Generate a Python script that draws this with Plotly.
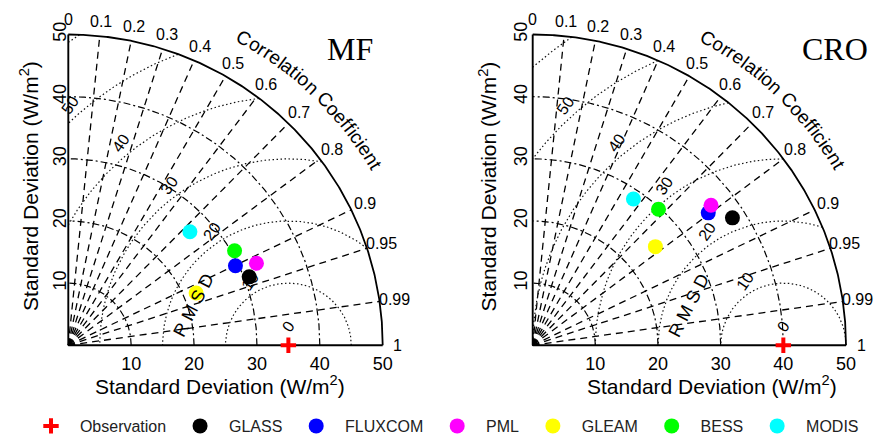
import numpy as np
import plotly.graph_objects as go

# ---------------- data ----------------
products = ["GLASS", "FLUXCOM", "PML", "GLEAM", "BESS", "MODIS"]
colors = ["#000000", "#0000ff", "#ff00ff", "#ffff00", "#00ff00", "#00ffff"]

panel_names = ["MF", "CRO"]
obs_std = [35.0, 40.0]
mf_std = [30.8, 29.5, 32.7, 22.0, 30.5, 26.6]
mf_corr = [0.934, 0.901, 0.915, 0.924, 0.867, 0.727]
cro_std = [37.9, 35.2, 36.3, 25.2, 29.7, 28.5]
cro_corr = [0.841, 0.796, 0.784, 0.777, 0.676, 0.564]

corr_ticks = [0, 0.1, 0.2, 0.3, 0.4, 0.5, 0.6, 0.7, 0.8, 0.9, 0.95, 0.99, 1]
std_ticks = [10, 20, 30, 40, 50]
std_arcs = [10, 20, 30, 40]
rmsd_ticks = [0, 10, 20, 30, 40, 50]
rmsd_circles = [10, 20, 30, 40, 50, 60]
std_max = 50

axis_title = "Standard Deviation (W/m<sup>2</sup>)"
corr_title = "Correlation Coefficient"

SANS = "Liberation Sans, Arial, sans-serif"
SERIF = "Liberation Serif, Times New Roman, serif"
NB = "\u00a0\u00a0"

W, H = 876, 443
# pixel geometry of the two panels (origin px, px per unit, y tick label axis position px)
panels_px = [dict(x0=68.3, sx=6.288, ypos=69.5, zpos=66.0),
             dict(x0=532.7, sx=6.266, ypos=530.5, zpos=531.5)]
y0px, sy = 350.0, 6.3
xr = [-1, 54.5]
yr = [-1, 55]

fig = go.Figure()

def dom_x(p):
    return [(p["x0"] + xr[0] * p["sx"]) / W, (p["x0"] + xr[1] * p["sx"]) / W]

ydom = [(H - (y0px - yr[0] * sy)) / H, (H - (y0px - yr[1] * sy)) / H]

char_w = {"C": 722, "o": 556, "r": 333, "e": 556, "l": 222, "a": 556, "t": 278,
          "i": 222, "n": 556, " ": 278, "f": 278, "c": 500}

annotations = []
for k, name in enumerate(panel_names):
    xa = "x" if k == 0 else "x2"
    ya = "y" if k == 0 else "y2"
    obs = obs_std[k]
    stds = mf_std if k == 0 else cro_std
    cors = mf_corr if k == 0 else cro_corr

    # radial correlation lines
    for c in corr_ticks[1:-1]:
        s = np.sqrt(1 - c ** 2)
        fig.add_trace(go.Scatter(x=[0, std_max * c], y=[0, std_max * s], mode="lines",
                                 line=dict(color="black", width=1.3, dash="7px,5px"),
                                 xaxis=xa, yaxis=ya, showlegend=False, hoverinfo="skip"))
    # standard deviation arcs
    th = np.linspace(0, np.pi / 2, 300)
    for r in std_arcs:
        fig.add_trace(go.Scatter(x=r * np.cos(th), y=r * np.sin(th), mode="lines",
                                 line=dict(color="black", width=1.2, dash="7px,3px,2px,3px"),
                                 xaxis=xa, yaxis=ya, showlegend=False, hoverinfo="skip"))
    # RMSD circles around the observation
    t2 = np.linspace(0, np.pi, 2000)
    for r in rmsd_circles:
        cx = obs + r * np.cos(t2)
        cy = r * np.sin(t2)
        inside = (cx >= 0) & (cx ** 2 + cy ** 2 <= std_max ** 2 + 1e-9)
        cx = np.where(inside, cx, np.nan)
        cy = np.where(inside, cy, np.nan)
        fig.add_trace(go.Scatter(x=cx, y=cy, mode="lines", connectgaps=False,
                                 line=dict(color="#111111", width=1.2, dash="1.5px,2.5px"),
                                 xaxis=xa, yaxis=ya, showlegend=False, hoverinfo="skip"))
    # outer arc and axes
    fig.add_trace(go.Scatter(x=std_max * np.cos(th), y=std_max * np.sin(th), mode="lines",
                             line=dict(color="black", width=1.8),
                             xaxis=xa, yaxis=ya, showlegend=False, hoverinfo="skip"))
    fig.add_trace(go.Scatter(x=[0, std_max, None, 0, 0], y=[0, 0, None, 0, std_max], mode="lines",
                             line=dict(color="black", width=1.9),
                             xaxis=xa, yaxis=ya, showlegend=False, hoverinfo="skip"))

    # observation
    fig.add_trace(go.Scatter(x=[obs], y=[0], mode="markers", name=NB + "Observation" + NB,
                             marker=dict(symbol="cross-thin", size=11, color="red",
                                         line=dict(color="red", width=4)),
                             cliponaxis=False, xaxis=xa, yaxis=ya, showlegend=(k == 0)))
    # products
    for p, col, s, c in zip(products, colors, stds, cors):
        fig.add_trace(go.Scatter(x=[s * c], y=[s * np.sqrt(1 - c ** 2)], mode="markers",
                                 name=NB + p + NB,
                                 marker=dict(symbol="circle", size=15, color=col),
                                 cliponaxis=False, xaxis=xa, yaxis=ya, showlegend=(k == 0)))

    # correlation labels
    for c in corr_ticks:
        ang = np.arccos(c)
        annotations.append(dict(x=52.4 * np.cos(ang), y=52.4 * np.sin(ang), xref=xa, yref=ya,
                                text=str(c), showarrow=False, xanchor="center", yanchor="middle",
                                font=dict(family=SANS, size=16, color="black")))
    # curved "Correlation Coefficient"
    wv = np.array([char_w[ch] for ch in corr_title], dtype=float)
    cen = np.cumsum(wv) - wv / 2
    frac = (cen - cen[0]) / (cen[-1] - cen[0])
    phis = 60.5 - frac * (60.5 - 30.6)
    for ch, ph in zip(corr_title, phis):
        if ch == " ":
            continue
        a = np.radians(ph)
        annotations.append(dict(x=56.8 * np.cos(a), y=56.8 * np.sin(a), xref=xa, yref=ya,
                                text=ch, showarrow=False, xanchor="center", yanchor="middle",
                                textangle=90 - ph,
                                font=dict(family=SANS, size=19, color="black")))
    # RMSD labels
    for v in rmsd_ticks:
        if v == 0:
            lx, ly = obs, 3.0
        else:
            a = np.radians(118 + 0.28 * v)
            lx, ly = obs + (v + 2) * np.cos(a), (v + 2) * np.sin(a)
        annotations.append(dict(x=lx, y=ly, xref=xa, yref=ya, text=str(v), showarrow=False,
                                xanchor="center", yanchor="middle", textangle=-55,
                                font=dict(family=SANS, size=16, color="black")))
    annotations.append(dict(x=obs - 15, y=6.4, xref=xa, yref=ya, text="R M S D", showarrow=False,
                            xanchor="center", yanchor="middle", textangle=-63,
                            font=dict(family=SANS, size=18, color="black")))
    # panel title
    annotations.append(dict(x=std_max - 5.2 if k == 0 else std_max - 1.8, y=47.7, xref=xa, yref=ya,
                            text=name, showarrow=False, xanchor="center", yanchor="middle",
                            font=dict(family=SERIF, size=32, color="black")))

# axis titles
xt_centers = [220 / W, 712 / W]
yt_centers = [29.5 / W, 488 / W]
for k in range(2):
    annotations.append(dict(x=xt_centers[k], y=(H - 390) / H, xref="paper", yref="paper",
                            text=axis_title, showarrow=False, xanchor="center", yanchor="middle",
                            font=dict(family=SANS, size=21, color="black")))
    annotations.append(dict(x=yt_centers[k], y=(H - 189) / H, xref="paper", yref="paper",
                            text=axis_title, showarrow=False, xanchor="center", yanchor="middle",
                            textangle=-90, font=dict(family=SANS, size=21, color="black")))

tickfont = dict(family=SANS, size=18, color="black")
common_x = dict(range=xr, showgrid=False, zeroline=False, showline=False, ticks="",
                tickvals=std_ticks, tickfont=tickfont)

def y_axis(pos):
    return dict(anchor="free", position=pos / W, range=yr, domain=ydom, showgrid=False,
                zeroline=False, showline=False, ticks="", tickvals=std_ticks, tickangle=-90,
                tickfont=tickfont)

def zero_axis(over, pos):
    return dict(anchor="free", position=pos / W, overlaying=over, side="left", range=yr,
                domain=ydom, showgrid=False, zeroline=False, showline=False, ticks="",
                tickvals=[0], tickangle=0, tickfont=tickfont)

fig.update_layout(
    width=W, height=H, margin=dict(l=0, r=0, t=0, b=0),
    paper_bgcolor="white", plot_bgcolor="white",
    xaxis=dict(domain=dom_x(panels_px[0]), anchor="y", **common_x),
    yaxis=y_axis(panels_px[0]["ypos"]),
    xaxis2=dict(domain=dom_x(panels_px[1]), anchor="y2", **common_x),
    yaxis2=y_axis(panels_px[1]["ypos"]),
    yaxis3=zero_axis("y", panels_px[0]["zpos"]),
    yaxis4=zero_axis("y2", panels_px[1]["zpos"]),
    annotations=annotations,
    showlegend=True,
    legend=dict(orientation="h", x=31 / W, y=(H - 432) / H, xanchor="left", yanchor="middle",
                font=dict(family=SANS, size=16, color="#222222"), bgcolor="rgba(0,0,0,0)"),
)

fig.write_html("out.html", config={"displayModeBar": False},
               post_script="document.body.style.margin='0';document.body.style.overflow='hidden';")
